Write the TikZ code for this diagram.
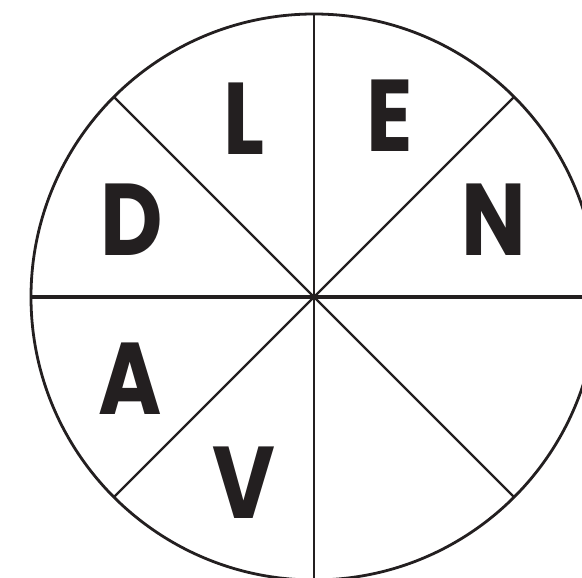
\documentclass[tikz,border=0pt]{standalone}
\usepackage{fontspec}
\usetikzlibrary{calc}
\newfontfamily\letterfont{Poppins}
\definecolor{ink}{HTML}{231F20}
\newcommand{\narrowletter}[1]{\scalebox{0.86}[1.02]{#1}}
\begin{document}
\begin{tikzpicture}[x=1pt,y=-1pt,
  letter/.style={anchor=base,inner sep=0pt,text=ink,font=\letterfont\bfseries\fontsize{100}{100}\selectfont},
  rim/.style={draw=ink,line width=2.8pt},
  spoke/.style={draw=ink,line width=2.4pt},
  axis/.style={draw=ink,line width=3.2pt}]
\useasboundingbox (0,0) rectangle (582,578);
\clip (0,0) rectangle (582,578);
\coordinate (c) at (314,297);
\foreach \a in {0,45,...,315} {\coordinate (p\a) at ($(c)+(\a:283)$);}
\draw[rim] (c) circle[radius=283];
\draw[axis] (p0) -- (p180);
\draw[axis,line width=2.9pt] (p90) -- (p270);
\draw[spoke] (p45) -- (p225);
\draw[spoke] (p135) -- (p315);
\node[letter] (L) at (244,154.8) {\narrowletter{L}};
\node[letter] (E) at (389.7,151.4) {\narrowletter{E}};
\node[letter] (N) at (494,255.4) {\narrowletter{N}};
\node[letter] (D) at (132,255.4) {\narrowletter{D}};
\node[letter] (A) at (129.8,414) {\narrowletter{A}};
\node[letter] (V) at (244,518.6) {\narrowletter{V}};
\end{tikzpicture}
\end{document}
